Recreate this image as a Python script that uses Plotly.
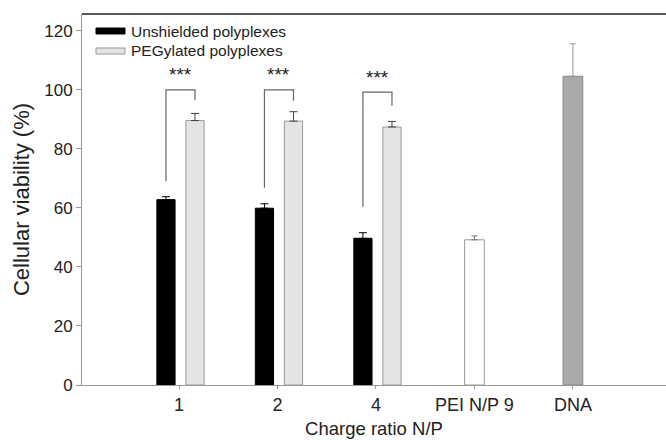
import plotly.graph_objects as go

categories = ["1", "2", "4", "PEI N/P 9", "DNA"]
group_cats = ["1", "2", "4"]
unshielded = [62.8, 59.9, 49.7]
unshielded_err = [1.0, 1.5, 1.9]
pegylated = [89.6, 89.4, 87.4]
pegylated_err = [2.4, 3.2, 1.9]
pei = [49.2]
pei_err = [1.3]
dna = [104.6]
dna_err = [11.0]

# significance brackets (y values in data units)
bracket_top = [100.0, 100.0, 99.2]
bracket_left_bottom = [69.0, 66.8, 60.4]
bracket_right_bottom = [96.6, 96.3, 94.6]
star_label = "***"

FONT = "Liberation Sans, Arial, sans-serif"
BW = 0.185
OFF_A = -0.225
OFF_B = 0.07

PW, PH = 666, 440
ML, MT, MB = 82, 14, 55
PLOT_W = PW - ML
PLOT_H = PH - MT - MB

fig = go.Figure()
fig.add_trace(go.Bar(
    x=group_cats, y=unshielded, width=BW, offset=OFF_A,
    marker=dict(color="#000000", line=dict(color="#000000", width=1)),
    error_y=dict(type="data", array=unshielded_err, arrayminus=[0]*3, symmetric=False,
                 color="#000000", thickness=1, width=4),
    name="Unshielded polyplexes", showlegend=False))
fig.add_trace(go.Bar(
    x=group_cats, y=pegylated, width=BW, offset=OFF_B,
    marker=dict(color="#e4e4e4", line=dict(color="#9a9a9a", width=1)),
    error_y=dict(type="data", array=pegylated_err, arrayminus=[0]*3, symmetric=False,
                 color="#444444", thickness=1, width=4),
    name="PEGylated polyplexes", showlegend=False))
fig.add_trace(go.Bar(
    x=[categories[3]], y=pei, width=0.2, offset=-0.1,
    marker=dict(color="#ffffff", line=dict(color="#9a9a9a", width=1)),
    error_y=dict(type="data", array=pei_err, arrayminus=[0], symmetric=False,
                 color="#777777", thickness=1, width=3),
    showlegend=False))
fig.add_trace(go.Bar(
    x=[categories[4]], y=dna, width=0.2, offset=-0.1,
    marker=dict(color="#a9a9a9", line=dict(color="#888888", width=1)),
    error_y=dict(type="data", array=dna_err, arrayminus=[0], symmetric=False,
                 color="#999999", thickness=1, width=3),
    showlegend=False))

shapes = []
annotations = []
cA = OFF_A + BW / 2
cB = OFF_B + BW / 2
for i, cat in enumerate(group_cats):
    idx = categories.index(cat)
    xl = idx + cA
    xr = idx + cB
    shapes.append(dict(type="path", xref="x", yref="y",
                       path=f"M {xl},{bracket_left_bottom[i]} L {xl},{bracket_top[i]} L {xr},{bracket_top[i]} L {xr},{bracket_right_bottom[i]}",
                       line=dict(color="#666666", width=1.2)))
    annotations.append(dict(x=(xl + xr) / 2, y=bracket_top[i] + 0.8, xref="x", yref="y",
                            text=star_label, showarrow=False, yanchor="bottom",
                            font=dict(family=FONT, size=19, color="#222222")))

# top frame line
shapes.append(dict(type="line", xref="paper", yref="paper", x0=0, x1=1, y0=1, y1=1,
                   line=dict(color="#222222", width=1.5)))

# custom legend (pixel positions in the page)
legend_items = [("Unshielded polyplexes", "#000000", "#000000"),
                ("PEGylated polyplexes", "#e4e4e4", "#9a9a9a")]
def px_x(p):
    return (p - ML) / PLOT_W
def px_y(p):
    return (PH - MB - p) / PLOT_H
for j, (label, fill, edge) in enumerate(legend_items):
    yc = 31 + j * 20
    shapes.append(dict(type="rect", xref="paper", yref="paper",
                       x0=px_x(96), x1=px_x(125),
                       y0=px_y(yc + 3), y1=px_y(yc - 3),
                       fillcolor=fill, line=dict(color=edge, width=1)))
    annotations.append(dict(x=px_x(129), y=px_y(yc), xref="paper", yref="paper",
                            text=label, showarrow=False, xanchor="left", yanchor="middle",
                            font=dict(family=FONT, size=15.5, color="#222222")))

fig.update_layout(
    width=PW, height=PH,
    margin=dict(l=ML, r=0, t=MT, b=MB),
    paper_bgcolor="white", plot_bgcolor="white",
    barmode="overlay",
    font=dict(family=FONT, color="#222222"),
    shapes=shapes, annotations=annotations,
    xaxis=dict(type="category", categoryorder="array", categoryarray=categories,
               range=[-0.985, 4.945], showline=True, linecolor="#999999", linewidth=1,
               ticks="outside", ticklen=3, tickcolor="#999999", showgrid=False,
               automargin=False,
               tickfont=dict(family=FONT, size=18, color="#222222"),
               title=dict(text="Charge ratio N/P", font=dict(family=FONT, size=18.5, color="#222222"),
                          standoff=8)),
    yaxis=dict(range=[0, 125.7], tickvals=[0, 20, 40, 60, 80, 100, 120],
               showline=True, linecolor="#999999", linewidth=1,
               ticks="outside", ticklen=5, tickcolor="#999999", showgrid=False, zeroline=False,
               automargin=False,
               tickfont=dict(family=FONT, size=17, color="#222222"),
               title=dict(text="Cellular viability (%)", font=dict(family=FONT, size=22, color="#222222"),
                          standoff=8)),
)

fig.write_html("out.html", config={"displayModeBar": False},
               post_script="document.body.style.margin='0';document.body.style.overflow='hidden';")
